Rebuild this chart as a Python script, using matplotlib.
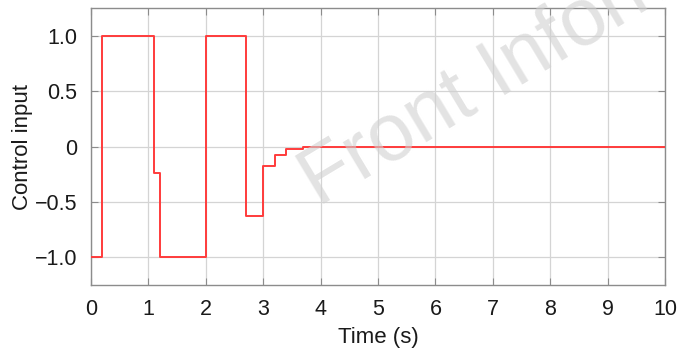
import matplotlib
matplotlib.use("Agg")
import matplotlib.pyplot as plt

# step change times (s) and control values held from each time
step_times = [0.0, 0.2, 1.1, 1.2, 2.0, 2.7, 3.0, 3.2, 3.4, 3.7, 3.9, 10.0]
step_values = [-1.0, 1.0, -0.24, -1.0, 1.0, -0.63, -0.18, -0.08, -0.025, -0.008, 0.0, 0.0]

x_ticks = [0, 1, 2, 3, 4, 5, 6, 7, 8, 9, 10]
y_ticks = [-1.0, -0.5, 0.0, 0.5, 1.0]
y_tick_labels = ["\u22121.0", "\u22120.5", "0", "0.5", "1.0"]

plt.rcParams['font.family'] = ['Liberation Sans', 'DejaVu Sans']

fig = plt.figure(figsize=(6.77, 3.51), dpi=100)
ax = fig.add_axes([0.1344, 0.188, 0.848, 0.789])

# watermark
fig.text(0.47, 0.41, "Front Information", fontsize=58, color='#d0d0d0', alpha=0.6,
         rotation=31, rotation_mode='anchor', ha='left', va='baseline', zorder=5)

ax.step(step_times, step_values, where='post', color='#ff3b3b', lw=1.4, zorder=3)

ax.set_xlim(0, 10)
ax.set_ylim(-1.25, 1.25)
ax.set_xticks(x_ticks)
ax.set_xticklabels([str(t) for t in x_ticks])
ax.set_yticks(y_ticks)
ax.set_yticklabels(y_tick_labels)
ax.grid(True, color='#d4d4d4', lw=0.9)
ax.set_axisbelow(True)
ax.patch.set_alpha(0)
for s in ax.spines.values():
    s.set_color('#8c8c8c')
    s.set_linewidth(1.0)
ax.tick_params(direction='in', length=5, color='#8c8c8c', labelsize=15.5,
               labelcolor='#1a1a1a', top=True, right=True, pad=10)
ax.set_xlabel("Time (s)", fontsize=16, color='#1a1a1a', labelpad=5)
ax.set_ylabel("Control input", fontsize=16, color='#1a1a1a', labelpad=1)

fig.savefig("out.png", dpi=100)
